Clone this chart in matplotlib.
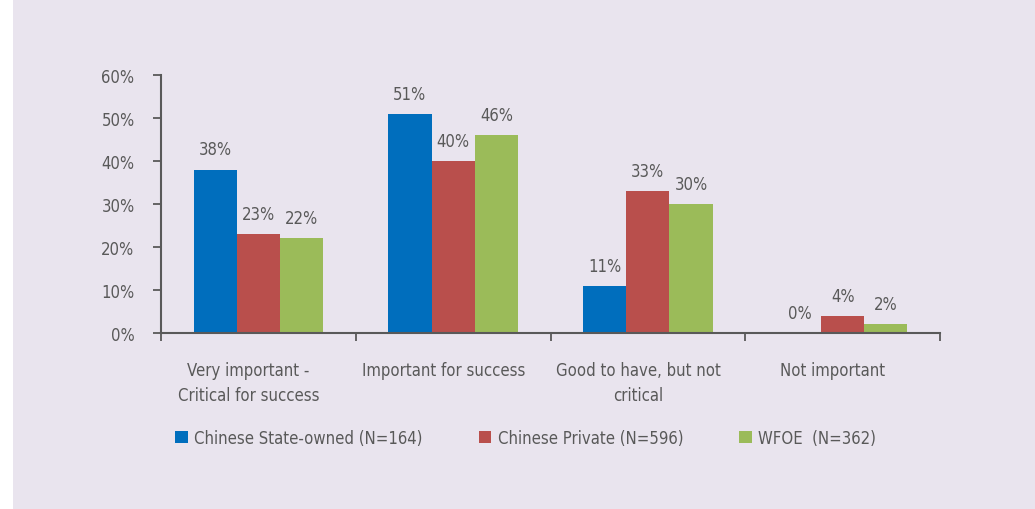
import numpy as np
import matplotlib.pyplot as plt
from matplotlib.patches import Rectangle

categories = ["Very important -\nCritical for success", "Important for success",
              "Good to have, but not\ncritical", "Not important"]
series = ["Chinese State-owned (N=164)", "Chinese Private (N=596)", "WFOE  (N=362)"]
state_owned = [38, 51, 11, 0]
private = [23, 40, 33, 4]
wfoe = [22, 46, 30, 2]
colors = ["#006EBD", "#B94F4C", "#9BBB59"]

bg = "#E9E4EE"
txt = "#595959"

plt.rcParams['font.family'] = ['DejaVu Sans']
plt.rcParams['font.stretch'] = 'condensed'
plt.rcParams['font.size'] = 12

fig = plt.figure(figsize=(10.35, 5.10), dpi=100)
fig.patch.set_facecolor(bg)
# white strip on the left
fig.patches.append(Rectangle((0, 0), 13 / 1035, 1, transform=fig.transFigure,
                             facecolor="white", edgecolor="none", zorder=-1))

ax = fig.add_axes([161 / 1035, 1 - 334 / 510, 779 / 1035, 258 / 510])
ax.set_facecolor(bg)

x = np.arange(len(categories)) + 0.5
w = 0.222
handles = []
for i, (vals, c) in enumerate(zip([state_owned, private, wfoe], colors)):
    pos = x + (i - 1) * w
    b = ax.bar(pos, vals, w, color=c, label=series[i])
    handles.append(b)
    for p, v in zip(pos, vals):
        ax.annotate(f"{v}%", (p, v), xytext=(0, 8), textcoords="offset points",
                    ha="center", va="bottom", color=txt, fontsize=12)

ax.set_xlim(0, 4)
ax.set_ylim(0, 60)
ax.set_yticks(range(0, 61, 10))
ax.set_yticklabels([f"{v}%" for v in range(0, 61, 10)])
ax.set_xticks(range(5))
ax.set_xticklabels([])
ax.set_xticks(x - 0.05, minor=True)
ax.set_xticklabels(categories, minor=True, linespacing=1.5)
ax.tick_params(axis="x", which="minor", length=0, pad=20, colors=txt)
ax.tick_params(axis="x", which="major", length=6, width=1.3, color=txt)
ax.tick_params(axis="y", length=6, width=1.3, color=txt, pad=13, labelcolor=txt)
for s in ["top", "right"]:
    ax.spines[s].set_visible(False)
for s in ["left", "bottom"]:
    ax.spines[s].set_color(txt)
    ax.spines[s].set_linewidth(1.5)

leg = fig.legend(handles=handles, loc="center left", bbox_to_anchor=(160 / 1035, 1 - 439 / 510),
                 ncol=3, frameon=False, handlelength=0.75, handleheight=0.75,
                 handletextpad=0.4, columnspacing=3.35, fontsize=12)
for t in leg.get_texts():
    t.set_color(txt)

fig.savefig("out.png", dpi=100, facecolor=bg)
